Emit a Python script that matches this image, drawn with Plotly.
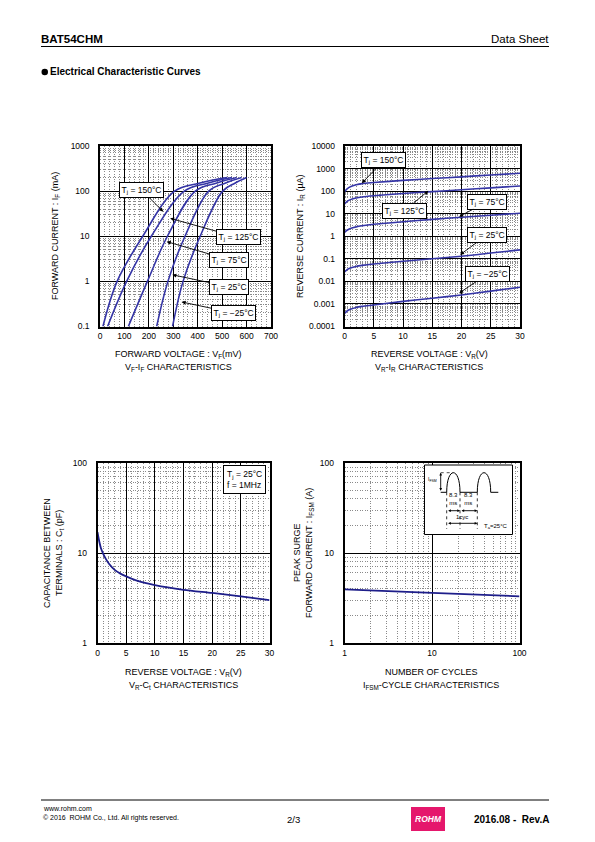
import math
import plotly.graph_objects as go

W, H = 595, 842
FONT = "Liberation Sans, Arial, sans-serif"
CURVE_A = "#3535A6"
CURVE_B = "#1E1E8A"

# ---------------- data ----------------
# VF-IF characteristics (VF in mV, IF in mA)
if_ma = [0.1, 1, 10, 100, 150, 200]
vf_150 = [12, 70, 175, 305, 405, 520]
vf_125 = [31, 109, 210, 345, 440, 540]
vf_75 = [116, 194, 276, 390, 475, 560]
vf_25 = [232, 278, 348, 445, 512, 580]
vf_m25 = [297, 340, 410, 502, 552, 600]

# VR-IR characteristics (VR in V, IR in uA)
vr_v = [0, 0.5, 1, 2, 3, 5, 10, 15, 20, 25, 30]
ir_150 = [95, 130, 155, 190, 215, 240, 300, 360, 430, 520, 620]
ir_125 = [27, 36, 42, 50, 55, 62, 78, 95, 115, 140, 170]
ir_75 = [1.5, 1.9, 2.2, 2.6, 2.9, 3.4, 4.4, 5.6, 7.0, 8.5, 10.5]
ir_25 = [0.026, 0.034, 0.039, 0.046, 0.051, 0.059, 0.078, 0.10, 0.13, 0.18, 0.25]
ir_m25 = [0.00038, 0.0005, 0.00058, 0.0007, 0.00078, 0.0009, 0.0013, 0.0018, 0.0025, 0.0037, 0.0055]

# VR-Ct characteristics (VR in V, Ct in pF)
vr_cap = [0, 0.3, 0.6, 1, 1.5, 2, 3, 4, 5, 7, 10, 15, 20, 25, 30]
ct_pf = [17, 13.5, 11.3, 9.8, 8.5, 7.6, 6.5, 5.9, 5.5, 4.9, 4.4, 3.9, 3.6, 3.3, 3.0]

# IFSM-cycle characteristics
cycles = [1, 10, 100]
ifsm_a = [3.95, 3.6, 3.3]

# tick labels
vf_ticks = [0, 100, 200, 300, 400, 500, 600, 700]
if_ticks = [0.1, 1, 10, 100, 1000]
if_ticktext = ["0.1", "1", "10", "100", "1000"]
vr_ticks = [0, 5, 10, 15, 20, 25, 30]
ir_ticks = [0.0001, 0.001, 0.01, 0.1, 1, 10, 100, 1000, 10000]
ir_ticktext = ["0.0001", "0.001", "0.01", "0.1", "1", "10", "100", "1000", "10000"]
ct_ticks = [1, 10, 100]
cyc_ticks = [1, 10, 100]


def PX(p):
    return p / W


def PY(p):
    return 1 - p / H


def log_minor(lo_exp, hi_exp):
    vals = []
    for e in range(lo_exp, hi_exp):
        for m in range(2, 10):
            vals.append(m * 10 ** e)
    return vals


TICKFONT = dict(family=FONT, size=8.5, color="black")


def axis(domain, rng, tickvals, ticktext, minor_vals, anchor, log=False, standoff=3):
    d = dict(
        domain=domain, range=rng, tickmode="array", tickvals=tickvals, ticktext=ticktext,
        showgrid=True, gridcolor="black", gridwidth=1, zeroline=False,
        showline=True, mirror=True, linecolor="black", linewidth=1.5,
        ticks="", ticklabelstandoff=standoff, tickfont=TICKFONT, anchor=anchor,
        fixedrange=True, automargin=False,
        minor=dict(tickmode="array", tickvals=minor_vals, showgrid=True,
                   gridcolor="#8a8a8a", griddash="1px,1.5px", gridwidth=0.8, ticks=""),
    )
    if log:
        d["type"] = "log"
    return d


fig = go.Figure()


def curve(x, y, ax, color, width=1.6, smoothing=1.0):
    fig.add_trace(go.Scatter(
        x=x, y=y, mode="lines", xaxis="x" + ax, yaxis="y" + ax,
        line=dict(color=color, width=width, shape="spline", smoothing=smoothing),
        showlegend=False, hoverinfo="skip"))


for v in (vf_150, vf_125, vf_75, vf_25, vf_m25):
    curve(v, if_ma, "", CURVE_A)
for i in (ir_150, ir_125, ir_75, ir_25, ir_m25):
    curve(vr_v, i, "2", CURVE_A, smoothing=0.8)
curve(vr_cap, ct_pf, "3", CURVE_B, width=1.8, smoothing=0.8)
curve(cycles, ifsm_a, "4", CURVE_B, width=1.8)

# plot areas (pixel boxes of the page)
dom1x, dom1y = [PX(100), PX(271)], [PY(326.5), PY(146)]
dom2x, dom2y = [PX(344.5), PX(520)], [PY(326.5), PY(146)]
dom3x, dom3y = [PX(97.5), PX(269.5)], [PY(643), PY(463)]
dom4x, dom4y = [PX(344.5), PX(519.5)], [PY(643), PY(463)]

fig.update_layout(
    template="none",
    width=W, height=H, autosize=False,
    margin=dict(l=0, r=0, t=0, b=0, pad=0, autoexpand=False),
    paper_bgcolor="white", plot_bgcolor="white",
    font=dict(family=FONT, color="black"),
    xaxis=axis(dom1x, [0, 700], vf_ticks, [str(v) for v in vf_ticks],
               [v for v in range(20, 700, 20) if v % 100], "y", standoff=1),
    yaxis=axis(dom1y, [-1, 3], if_ticks, if_ticktext, log_minor(-1, 3), "x", log=True, standoff=7),
    xaxis2=axis(dom2x, [0, 30], vr_ticks, [str(v) for v in vr_ticks],
                [v for v in range(1, 30) if v % 5], "y2", standoff=1),
    yaxis2=axis(dom2y, [-4, 4], ir_ticks, ir_ticktext, log_minor(-4, 4), "x2", log=True, standoff=6),
    xaxis3=axis(dom3x, [0, 30], vr_ticks, [str(v) for v in vr_ticks],
                [v for v in range(1, 30) if v % 5], "y3", standoff=1),
    yaxis3=axis(dom3y, [0, 2], ct_ticks, [str(v) for v in ct_ticks], log_minor(0, 2), "x3", log=True, standoff=7),
    xaxis4=axis(dom4x, [0, 2], cyc_ticks, [str(v) for v in cyc_ticks], log_minor(0, 2), "y4", log=True, standoff=1),
    yaxis4=axis(dom4y, [0, 2], [1, 10, 100], ["1", "10", "100"], log_minor(0, 2), "x4", log=True, standoff=7),
)

anns = []
shapes = []


def text(t, x, y, size=9, xanchor="center", yanchor="middle", angle=0, bold=False, color="black", **kw):
    if bold:
        t = "<b>" + t + "</b>"
    anns.append(dict(text=t, x=PX(x), y=PY(y), xref="paper", yref="paper", showarrow=False,
                     xanchor=xanchor, yanchor=yanchor, textangle=angle, borderpad=0,
                     font=dict(family=FONT, size=size, color=color), **kw))


def hline(x0, x1, y, width=1, color="black", dash="solid"):
    shapes.append(dict(type="line", xref="paper", yref="paper", x0=PX(x0), x1=PX(x1), y0=PY(y), y1=PY(y),
                       line=dict(color=color, width=width, dash=dash)))


def vline(x, y0, y1, width=1, color="black", dash="solid"):
    shapes.append(dict(type="line", xref="paper", yref="paper", x0=PX(x), x1=PX(x), y0=PY(y0), y1=PY(y1),
                       line=dict(color=color, width=width, dash=dash)))


# header / footer
text("BAT54CHM", 40, 39, size=11.5, xanchor="left", bold=True)
text("Data Sheet", 550, 39, size=11.5, xanchor="right")
hline(41, 549, 46.5, width=1)
shapes.append(dict(type="circle", xref="paper", yref="paper", x0=PX(41.5), x1=PX(48), y0=PY(75.3), y1=PY(68.8),
                   fillcolor="black", line=dict(width=0)))
text("Electrical Characteristic Curves", 48.5, 72, size=10, xanchor="left", bold=True)
hline(41, 549, 800, width=1)
text("www.rohm.com", 42, 808.5, size=7, xanchor="left")
text("© 2016  ROHM Co., Ltd. All rights reserved.", 42, 817.5, size=7, xanchor="left")
text("2/3", 293, 819, size=9.5)
text("2016.08 -  Rev.A", 550, 819, size=10, xanchor="right", bold=True)
shapes.append(dict(type="rect", xref="paper", yref="paper", x0=PX(411), x1=PX(445), y0=PY(831), y1=PY(807),
                   fillcolor="#E5176C", line=dict(width=0)))
text("<i>ROHM</i>", 428, 818.5, size=8.5, bold=True, color="white")

# axis titles
text("FORWARD VOLTAGE : V<sub>F</sub>(mV)", 178, 355, size=9)
text("V<sub>F</sub>-I<sub>F</sub> CHARACTERISTICS", 178, 367, size=9)
text("FORWARD CURRENT : I<sub>F</sub> (mA)", 55, 236, size=9, angle=-90)
text("REVERSE VOLTAGE : V<sub>R</sub>(V)", 429, 355, size=9)
text("V<sub>R</sub>-I<sub>R</sub> CHARACTERISTICS", 429, 367, size=9)
text("REVERSE CURRENT : I<sub>R</sub> (µA)", 300, 236, size=9, angle=-90)
text("REVERSE VOLTAGE : V<sub>R</sub>(V)", 183, 672, size=9)
text("V<sub>R</sub>-C<sub>t</sub> CHARACTERISTICS", 183, 685, size=9)
text("CAPACITANCE BETWEEN", 47, 553, size=9, angle=-90)
text("TERMINALS : C<sub>t</sub> (pF)", 59, 553, size=9, angle=-90)
text("NUMBER OF CYCLES", 431, 672, size=9)
text("I<sub>FSM</sub>-CYCLE CHARACTERISTICS", 431, 685, size=9)
text("PEAK SURGE", 297, 553, size=9, angle=-90)
text("FORWARD CURRENT : I<sub>FSM</sub> (A)", 309, 553, size=9, angle=-90)

LABFONT = dict(family=FONT, size=8.5, color="black")


def label(t, ax_id, x, y, dx, dy, log_y=True, log_x=False):
    anns.append(dict(text=t, xref="x" + ax_id, yref="y" + ax_id,
                     x=math.log10(x) if log_x else x, y=math.log10(y) if log_y else y,
                     ax=dx, ay=dy, showarrow=True, arrowhead=2, arrowsize=0.9, arrowwidth=0.9,
                     arrowcolor="black", bordercolor="black", borderwidth=1, borderpad=1.5,
                     bgcolor="white", font=LABFONT))


# VF-IF labels (tip in data units, offset of the box in px)
label("T<sub>j</sub> = 150°C", "", 259, 35, -22, -22)
label("T<sub>j</sub> = 125°C", "", 287, 25, 68, 19)
label("T<sub>j</sub> = 75°C", "", 273, 7.6, 62, 18)
label("T<sub>j</sub> = 25°C", "", 296, 1.4, 57, 12)
label("T<sub>j</sub> = −25°C", "", 334, 0.35, 52, 11)
# VR-IR labels
label("T<sub>j</sub> = 150°C", "2", 2.97, 224, 22, -23)
label("T<sub>j</sub> = 125°C", "2", 14.35, 105, -24, 20)
label("T<sub>j</sub> = 75°C", "2", 19.6, 7.4, 28, -15)
label("T<sub>j</sub> = 25°C", "2", 19.75, 0.15, 27, -20)
label("T<sub>j</sub> = −25°C", "2", 19.6, 0.003, 28, -19)

# Ct legend box
anns.append(dict(text="T<sub>j</sub> = 25°C<br>f = 1MHz", x=PX(244), y=PY(479), xref="paper", yref="paper",
                 showarrow=False, align="left", bordercolor="black", borderwidth=1, borderpad=3,
                 bgcolor="white", font=LABFONT))

# IFSM inset diagram
shapes.append(dict(type="rect", xref="paper", yref="paper", x0=PX(424.5), x1=PX(512.5), y0=PY(534.5), y1=PY(465),
                   fillcolor="white", line=dict(color="black", width=1)))
base, peak = 492.3, 472.7
hline(440.7, 446.7, base)
hline(460, 477.3, base)
hline(490.7, 498.3, base)
for a, b in ((446.7, 460), (477.3, 490.7)):
    k = (peak - base) * 4 / 3
    path = "M {},{} C {},{} {},{} {},{}".format(PX(a), PY(base), PX(a), PY(base + k), PX(b), PY(base + k), PX(b), PY(base))
    shapes.append(dict(type="path", xref="paper", yref="paper", path=path, line=dict(color="black", width=1)))
hline(440.7, 453.3, peak, width=0.7, dash="dot")
for xv in (446.7, 460, 477.3):
    vline(xv, base, 529, width=0.8, dash="dot")


def dbl_arrow(x0, y0, x1, y1):
    anns.append(dict(text="", xref="paper", yref="paper", x=PX(x1), y=PY(y1), ax=x0 - x1, ay=y0 - y1,
                     showarrow=True, arrowhead=2, startarrowhead=2, arrowside="end+start",
                     arrowsize=0.6, startarrowsize=0.6, arrowwidth=0.9, arrowcolor="black"))


dbl_arrow(440.7, base, 440.7, peak)
dbl_arrow(446.7, 510.7, 460, 510.7)
dbl_arrow(460, 510.7, 477.3, 510.7)
dbl_arrow(446.7, 523.3, 477.3, 523.3)
text("I<sub>FSM</sub>", 432.5, 479.5, size=5)
text("8.3<br>ms", 453.3, 499, size=6)
text("8.3<br>ms", 468.7, 499, size=6)
text("1cyc", 461.5, 516.8, size=6)
text("T<sub>a</sub>=25°C", 496, 526, size=6)

fig.update_layout(annotations=anns, shapes=shapes)

fig.write_html(
    "out.html",
    config={"displayModeBar": False, "responsive": False},
    post_script="document.body.style.margin='0';document.body.style.overflow='hidden';",
)
